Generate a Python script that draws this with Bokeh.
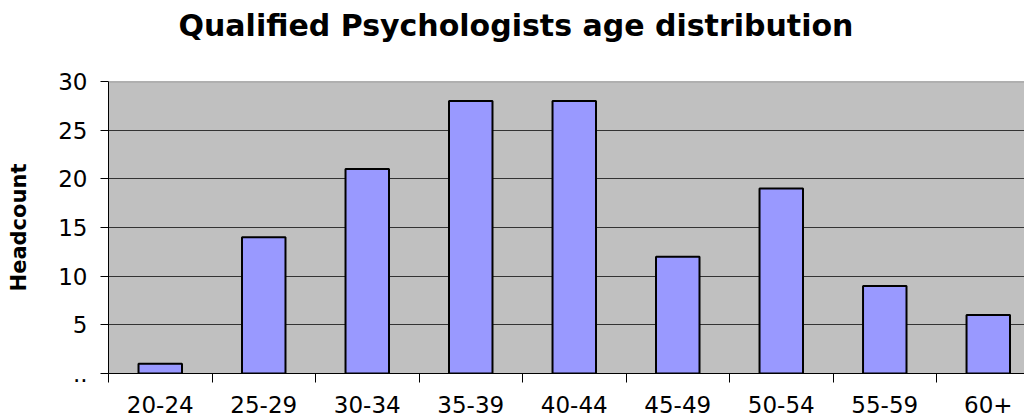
from bokeh.plotting import figure
from bokeh.models import Range1d, FixedTicker, Span, ColumnDataSource
from bokeh.embed import file_html
from bokeh.resources import INLINE

categories = ["20-24", "25-29", "30-34", "35-39", "40-44", "45-49", "50-54", "55-59", "60+"]
headcount = [1, 14, 21, 28, 28, 12, 19, 9, 6]
y_ticks = [0, 5, 10, 15, 20, 25, 30]
y_tick_labels = {0: "..", 5: "5", 10: "10", 15: "15", 20: "20", 25: "25", 30: "30"}

centers = [i + 0.5 for i in range(len(categories))]
boundaries = list(range(len(categories)))
src = ColumnDataSource(dict(x=centers, top=headcount, cat=categories))

p = figure(width=1024, height=418, output_backend="svg", toolbar_location=None,
           x_range=Range1d(0, 8.85), y_range=Range1d(0, 30),
           min_border_left=108, min_border_right=0, min_border_top=81, min_border_bottom=45,
           title="Qualified Psychologists age distribution\n")

p.title.text_font = "DejaVu Sans"
p.title.text_font_style = "bold"
p.title.text_font_size = "30px"
p.title.align = "left"
p.title.offset = 70
p.title.standoff = 8
p.title.text_color = "black"

p.background_fill_color = "#C0C0C0"
p.border_fill_color = "white"
p.outline_line_color = None

p.vbar(x="x", top="top", bottom=0, width=0.42, source=src,
       fill_color="#9999FF", line_color="black", line_width=2)

p.add_layout(Span(location=30, dimension="width", line_color="#808080", line_width=1.5))

p.xgrid.visible = False
p.ygrid.ticker = FixedTicker(ticks=[5, 10, 15, 20, 25])
p.ygrid.grid_line_color = "#333333"
p.ygrid.grid_line_width = 1

xa = p.xaxis[0]
xa.ticker = FixedTicker(ticks=centers, minor_ticks=boundaries)
xa.major_label_overrides = {c: lab for c, lab in zip(centers, categories)}
xa.major_tick_line_color = None
xa.minor_tick_line_color = "black"
xa.minor_tick_out = 9
xa.minor_tick_in = 0
xa.axis_line_color = "black"
xa.major_label_text_font = "DejaVu Sans"
xa.major_label_text_font_size = "23px"
xa.major_label_text_color = "black"
xa.major_label_standoff = 13

ya = p.yaxis[0]
ya.ticker = FixedTicker(ticks=y_ticks)
ya.major_label_overrides = y_tick_labels
ya.minor_tick_line_color = None
ya.major_tick_out = 8
ya.major_tick_in = 0
ya.major_tick_line_color = "black"
ya.axis_line_color = "black"
ya.major_label_text_font = "DejaVu Sans"
ya.major_label_text_font_size = "23px"
ya.major_label_text_color = "black"
ya.major_label_standoff = 13
ya.axis_label = "Headcount"
ya.axis_label_text_font = "DejaVu Sans"
ya.axis_label_text_font_style = "bold"
ya.axis_label_text_font_size = "21px"
ya.axis_label_text_color = "black"
ya.axis_label_standoff = 24

open("out.html", "w").write(file_html(p, INLINE))
